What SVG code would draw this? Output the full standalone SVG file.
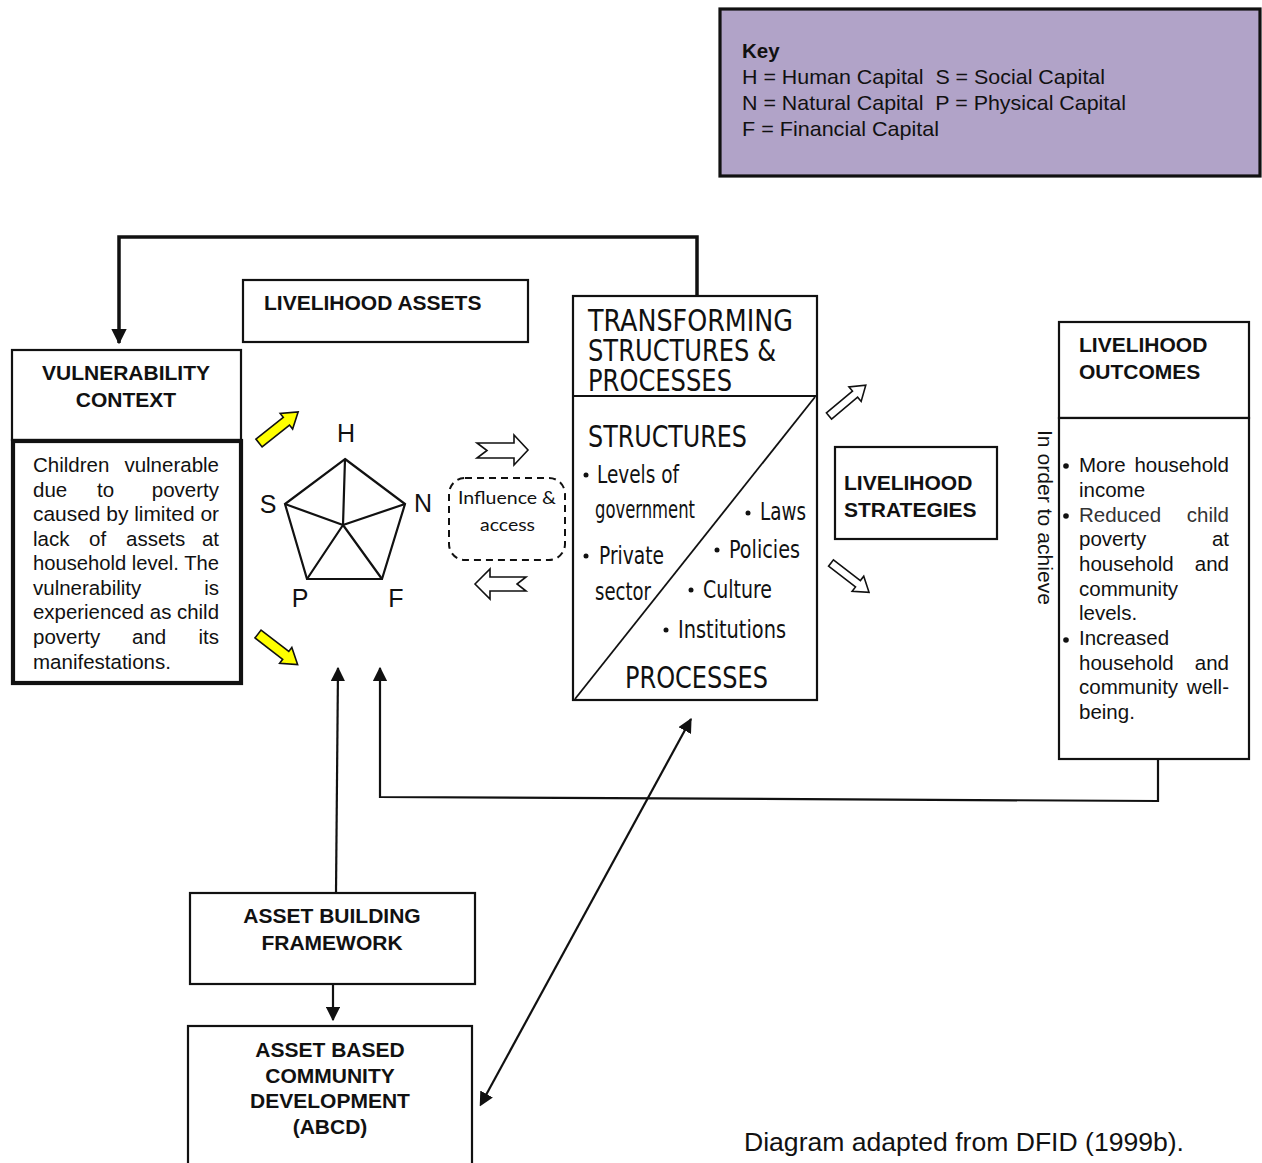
<svg xmlns="http://www.w3.org/2000/svg" width="1262" height="1163" viewBox="0 0 1262 1163">
<style>
.box{fill:#fff;stroke:#111;stroke-width:2.2}
.t{font-family:"Liberation Sans",Arial,sans-serif;font-size:20.5px;fill:#111}
.b{font-family:"Liberation Sans",Arial,sans-serif;font-size:21px;font-weight:bold;fill:#111}
.c{font-family:"Liberation Sans Narrow","DejaVu Sans Condensed","Liberation Sans",sans-serif;font-stretch:condensed;fill:#111}
.lbl{font-family:"Liberation Sans",Arial,sans-serif;font-size:25px;fill:#111;text-anchor:middle}
.ln{fill:none;stroke:#111;stroke-width:2.2}
.open{fill:#fff;stroke:#111;stroke-width:1.6;stroke-linejoin:miter}
.yel{fill:#ffff00;stroke:#111;stroke-width:1.6}
</style>
<defs>
<marker id="ah" viewBox="0 0 12 12" refX="11" refY="6" markerWidth="6.5" markerHeight="6.5" orient="auto" markerUnits="strokeWidth">
<path d="M0,0 L12,6 L0,12 z" fill="#111"/>
</marker>
<marker id="ah2" viewBox="0 0 12 12" refX="11" refY="6" markerWidth="4.5" markerHeight="4.5" orient="auto" markerUnits="strokeWidth">
<path d="M0,0 L12,6 L0,12 z" fill="#111"/>
</marker>
<marker id="ahs" viewBox="0 0 12 12" refX="1" refY="6" markerWidth="6.5" markerHeight="6.5" orient="auto-start-reverse" markerUnits="strokeWidth">
<path d="M0,0 L12,6 L0,12 z" fill="#111"/>
</marker>
<polygon id="blk" points="0,-4 34,-4 34,-9.5 48,0 34,9.5 34,4 0,4"/>
<polygon id="ylw" points="0,-5 35,-5 35,-10 50,0 35,10 35,5 0,5"/>
</defs>

<g id="key">
<rect x="720" y="9" width="540" height="167" fill="#b1a3c8" stroke="#111" stroke-width="3.2"/>
<text class="b" x="742" y="58" style="font-size:20.5px">Key</text>
<text class="t" x="742" y="84" style="font-size:21px" textLength="363" lengthAdjust="spacingAndGlyphs" xml:space="preserve">H = Human Capital  S = Social Capital</text>
<text class="t" x="742" y="110" style="font-size:21px" textLength="384" lengthAdjust="spacingAndGlyphs" xml:space="preserve">N = Natural Capital  P = Physical Capital</text>
<text class="t" x="742" y="136" style="font-size:21px" textLength="197" lengthAdjust="spacingAndGlyphs">F = Financial Capital</text>
</g>

<g id="connectors">
<polyline class="ln" points="697,295 697,237 119,237 119,343" style="stroke-width:3.5" marker-end="url(#ah2)"/>
<polyline class="ln" points="1158,759 1158,801 380,797 380,668" marker-end="url(#ah)"/>
<line class="ln" x1="336" y1="893" x2="338" y2="668" marker-end="url(#ah)"/>
<line class="ln" x1="333" y1="984" x2="333" y2="1020" marker-end="url(#ah)"/>
<line class="ln" x1="486" y1="1095" x2="691" y2="719" marker-start="url(#ahs)" marker-end="url(#ah)"/>
<use href="#ylw" class="yel" transform="translate(259,443) rotate(-38.5)"/>
<use href="#ylw" class="yel" transform="translate(258,634) rotate(37.6)"/>
<polygon class="open" points="477,443 514,443 514,435 528,450 514,465 514,458 477,458 487,450.5"/>
<polygon class="open" points="475,584 490,569 490,577 526,577 517,584 526,591 490,591 490,599"/>
<use href="#blk" class="open" transform="translate(829,416) rotate(-40)"/>
<use href="#blk" class="open" transform="translate(831,563) rotate(37.6)"/>
</g>

<g id="livelihood-assets">
<rect class="box" x="243" y="280" width="285" height="62"/>
<text class="b" x="264" y="310">LIVELIHOOD ASSETS</text>
</g>

<g id="vulnerability-context">
<rect class="box" x="12" y="350" width="229" height="90"/>
<text class="b" x="126" y="380" text-anchor="middle">VULNERABILITY</text>
<text class="b" x="126" y="407" text-anchor="middle">CONTEXT</text>
<rect x="13" y="441" width="228" height="242" fill="#fff" stroke="#111" stroke-width="4.2"/>
<text class="t" y="472"><tspan x="33">Children</tspan><tspan x="219" text-anchor="end">vulnerable</tspan></text>
<text class="t" y="497"><tspan x="33">due</tspan><tspan x="97">to</tspan><tspan x="219" text-anchor="end">poverty</tspan></text>
<text class="t" x="33" y="521" textLength="186" lengthAdjust="spacingAndGlyphs">caused by limited or</text>
<text class="t" y="546"><tspan x="33">lack</tspan><tspan x="89">of</tspan><tspan x="126">assets</tspan><tspan x="219" text-anchor="end">at</tspan></text>
<text class="t" x="33" y="570" textLength="186" lengthAdjust="spacingAndGlyphs">household level. The</text>
<text class="t" y="595"><tspan x="33">vulnerability</tspan><tspan x="219" text-anchor="end">is</tspan></text>
<text class="t" x="33" y="619" textLength="186" lengthAdjust="spacingAndGlyphs">experienced as child</text>
<text class="t" y="644"><tspan x="33">poverty</tspan><tspan x="132">and</tspan><tspan x="219" text-anchor="end">its</tspan></text>
<text class="t" x="33" y="669">manifestations.</text>
</g>

<g id="asset-pentagon">
<polygon points="345,459 405,504 382,579 307,579 285,504" fill="none" stroke="#111" stroke-width="2.2" stroke-linejoin="miter"/>
<path d="M343,525 L345,459 M343,525 L405,504 M343,525 L382,579 M343,525 L307,579 M343,525 L285,504" stroke="#111" stroke-width="2.2" fill="none"/>
<text class="lbl" x="346" y="442">H</text>
<text class="lbl" x="268" y="513">S</text>
<text class="lbl" x="423" y="512">N</text>
<text class="lbl" x="300" y="607">P</text>
<text class="lbl" x="396" y="607">F</text>
</g>

<g id="influence-access">
<rect x="449" y="478" width="116" height="82" rx="16" fill="#fff" stroke="#111" stroke-width="2" stroke-dasharray="7,5"/>
<text x="458" y="504" style="font-family:Lato,'Open Sans',sans-serif;font-size:17.5px;fill:#111" textLength="98" lengthAdjust="spacingAndGlyphs">Influence &amp;</text>
<text x="480" y="531" style="font-family:Lato,'Open Sans',sans-serif;font-size:17.5px;fill:#111" textLength="55" lengthAdjust="spacingAndGlyphs">access</text>
</g>

<g id="transforming-structures">
<rect class="box" x="573" y="296" width="244" height="404"/>
<line x1="573" y1="396" x2="817" y2="396" stroke="#111" stroke-width="2"/>
<line x1="575" y1="699" x2="815" y2="397" stroke="#111" stroke-width="1.8"/>
<text class="c" x="588" y="331" style="font-size:29.5px" textLength="205" lengthAdjust="spacingAndGlyphs">TRANSFORMING</text>
<text class="c" x="588" y="361" style="font-size:29.5px" textLength="188" lengthAdjust="spacingAndGlyphs">STRUCTURES &amp;</text>
<text class="c" x="588" y="391" style="font-size:29.5px" textLength="144" lengthAdjust="spacingAndGlyphs">PROCESSES</text>
<text class="c" x="588" y="447" style="font-size:31px" textLength="159" lengthAdjust="spacingAndGlyphs">STRUCTURES</text>
<circle cx="586" cy="475" r="2.5" fill="#111"/>
<text class="c" x="597" y="483" style="font-size:24px" textLength="82" lengthAdjust="spacingAndGlyphs">Levels of</text>
<text class="c" x="595" y="518" style="font-size:24px" textLength="100" lengthAdjust="spacingAndGlyphs">government</text>
<circle cx="748" cy="513" r="2.5" fill="#111"/>
<text class="c" x="760" y="520" style="font-size:24px" textLength="46" lengthAdjust="spacingAndGlyphs">Laws</text>
<circle cx="586" cy="556" r="2.5" fill="#111"/>
<text class="c" x="599" y="564" style="font-size:24px" textLength="65" lengthAdjust="spacingAndGlyphs">Private</text>
<circle cx="717" cy="550" r="2.5" fill="#111"/>
<text class="c" x="729" y="558" style="font-size:24px" textLength="71" lengthAdjust="spacingAndGlyphs">Policies</text>
<text class="c" x="595" y="600" style="font-size:24px" textLength="56" lengthAdjust="spacingAndGlyphs">sector</text>
<circle cx="691" cy="590" r="2.5" fill="#111"/>
<text class="c" x="703" y="598" style="font-size:24px" textLength="69" lengthAdjust="spacingAndGlyphs">Culture</text>
<circle cx="666" cy="630" r="2.5" fill="#111"/>
<text class="c" x="678" y="638" style="font-size:24px" textLength="108" lengthAdjust="spacingAndGlyphs">Institutions</text>
<text class="c" x="625" y="688" style="font-size:31px" textLength="143" lengthAdjust="spacingAndGlyphs">PROCESSES</text>
</g>

<g id="livelihood-strategies">
<rect class="box" x="835" y="447" width="162" height="92"/>
<text class="b" x="844" y="490">LIVELIHOOD</text>
<text class="b" x="844" y="517">STRATEGIES</text>
</g>

<g id="in-order-to-achieve">
<text class="t" transform="translate(1038,430) rotate(90)" x="0" y="0" textLength="175" lengthAdjust="spacingAndGlyphs">In order to achieve</text>
</g>

<g id="livelihood-outcomes">
<rect class="box" x="1059" y="322" width="190" height="96"/>
<text class="b" x="1079" y="352">LIVELIHOOD</text>
<text class="b" x="1079" y="379">OUTCOMES</text>
<rect class="box" x="1059" y="418" width="190" height="341"/>
<circle cx="1066" cy="466" r="2.8" fill="#111"/>
<circle cx="1066" cy="516" r="2.8" fill="#111"/>
<circle cx="1066" cy="640" r="2.8" fill="#111"/>
<text class="t" y="472"><tspan x="1079">More</tspan><tspan x="1229" text-anchor="end">household</tspan></text>
<text class="t" x="1079" y="497">income</text>
<text class="t" y="522" style="fill:#333"><tspan x="1079">Reduced</tspan><tspan x="1229" text-anchor="end">child</tspan></text>
<text class="t" y="546"><tspan x="1079">poverty</tspan><tspan x="1229" text-anchor="end">at</tspan></text>
<text class="t" y="571"><tspan x="1079">household</tspan><tspan x="1229" text-anchor="end">and</tspan></text>
<text class="t" x="1079" y="596">community</text>
<text class="t" x="1079" y="620">levels.</text>
<text class="t" x="1079" y="645">Increased</text>
<text class="t" y="670"><tspan x="1079">household</tspan><tspan x="1229" text-anchor="end">and</tspan></text>
<text class="t" y="694"><tspan x="1079">community</tspan><tspan x="1229" text-anchor="end">well-</tspan></text>
<text class="t" x="1079" y="719">being.</text>
</g>

<g id="asset-building-framework">
<rect class="box" x="190" y="893" width="285" height="91"/>
<text class="b" x="332" y="923" text-anchor="middle">ASSET BUILDING</text>
<text class="b" x="332" y="950" text-anchor="middle">FRAMEWORK</text>
</g>

<g id="abcd">
<rect class="box" x="188" y="1026" width="284" height="160"/>
<text class="b" x="330" y="1057" text-anchor="middle">ASSET BASED</text>
<text class="b" x="330" y="1083" text-anchor="middle">COMMUNITY</text>
<text class="b" x="330" y="1108" text-anchor="middle">DEVELOPMENT</text>
<text class="b" x="330" y="1134" text-anchor="middle">(ABCD)</text>
</g>

<text class="t" x="744" y="1151" style="font-size:25px" textLength="440" lengthAdjust="spacingAndGlyphs">Diagram adapted from DFID (1999b).</text>
</svg>
